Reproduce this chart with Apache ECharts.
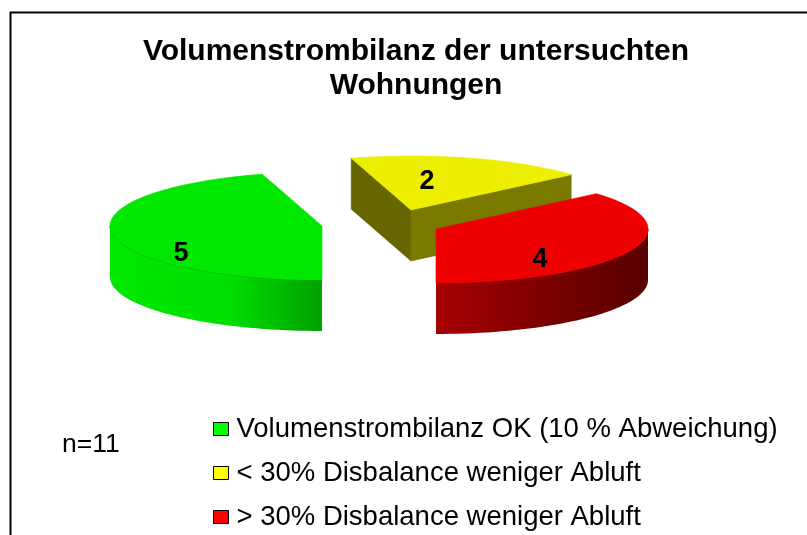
<!DOCTYPE html>
<html>
<head>
<meta charset="utf-8">
<style>html,body{margin:0;padding:0;background:#fff;overflow:hidden}#c{width:807px;height:535px}</style>
<script src="https://cdn.jsdelivr.net/npm/echarts@6/dist/echarts.min.js"></script>
</head>
<body>
<div id="c"></div>
<script>
const categories = ['Volumenstrombilanz OK (10 % Abweichung)', '< 30% Disbalance weniger Abluft', '> 30% Disbalance weniger Abluft'];
const values = [5, 2, 4];
const legendColors = ['#00ff00', '#ffff00', '#ff0000'];
const topColors = ['#00e800', '#eeee00', '#ee0000'];
const edgeColors = ['#008800', '#555500', '#880000'];
const sideStops = [['#00e800', '#00e000', '#00a000'], ['#7a7a00', '#7a7a00', '#7a7a00'], ['#a80000', '#780000', '#580000']];
const startFaceColors = ['#009000', '#666600', '#800000'];
const endFaceColors = ['#009000', '#7a7a00', '#800000'];
const apexes = [[322, 226], [411, 210], [436, 229]];
const labelAt = [[181, 254], [427, 182], [540, 260]];
const RX = 212, RY = 54, DEPTH = 51, START_DEG = 180;

const total = values.reduce((a, b) => a + b, 0);
const sliceStart = i => START_DEG + values.slice(0, i).reduce((a, b) => a + b, 0) / total * 360;

function drawSlice(i, api) {
  const v = api.value(0);
  const a = sliceStart(i), b = a + v / total * 360;
  const [cx, cy] = apexes[i];
  const pt = (d, dz) => {
    const t = d * Math.PI / 180;
    return [cx + RX * Math.sin(t), cy - RY * Math.cos(t) + (dz || 0)];
  };
  const arc = (from, to, dz) => {
    const n = Math.max(2, Math.ceil((to - from) / 2)), pts = [];
    for (let k = 0; k <= n; k++) pts.push(pt(from + (to - from) * k / n, dz));
    return pts;
  };
  const children = [];
  const face = (points, fill) => children.push({ type: 'polygon', shape: { points }, style: { fill, stroke: fill, lineWidth: 0.6 } });
  const rad = d => d * Math.PI / 180;
  if (Math.cos(rad(a - 90)) < -1e-6) {
    const p = pt(a);
    face([[cx, cy], p, [p[0], p[1] + DEPTH], [cx, cy + DEPTH]], startFaceColors[i]);
  }
  if (Math.cos(rad(b + 90)) < -1e-6) {
    const p = pt(b);
    face([[cx, cy], p, [p[0], p[1] + DEPTH], [cx, cy + DEPTH]], endFaceColors[i]);
  }
  [0, 360].forEach(off => {
    const from = Math.max(a, 90 + off), to = Math.min(b, 270 + off);
    if (to > from) {
      const upper = arc(from, to, 0), lower = arc(from, to, DEPTH).reverse();
      const s = sideStops[i];
      children.push({
        type: 'polygon', shape: { points: upper.concat(lower) },
        style: {
          fill: new echarts.graphic.LinearGradient(0, 0, 1, 0, [
            { offset: 0, color: s[0] }, { offset: 0.55, color: s[1] }, { offset: 1, color: s[2] }
          ])
        }
      });
      children.push({ type: 'polyline', shape: { points: upper }, style: { fill: 'none', stroke: edgeColors[i], lineWidth: 1 } });
    }
  });
  face([[cx, cy]].concat(arc(a, b, 0)), topColors[i]);
  children.push({
    type: 'text',
    style: {
      text: String(v), x: labelAt[i][0], y: labelAt[i][1], fill: '#000',
      font: 'bold 27px "Liberation Sans", Arial, sans-serif', textAlign: 'center', textVerticalAlign: 'middle'
    }
  });
  return { type: 'group', children };
}

const chart = echarts.init(document.getElementById('c'), null, { renderer: 'canvas' });
chart.setOption({
  animation: false,
  backgroundColor: '#fff',
  title: {
    text: 'Volumenstrombilanz der untersuchten\nWohnungen',
    left: 411, top: 30, textAlign: 'center',
    textStyle: { fontFamily: '"Liberation Sans", Arial, sans-serif', fontWeight: 'bold', fontSize: 30, lineHeight: 34, color: '#000' }
  },
  legend: {
    orient: 'vertical', left: 213, top: 411, itemWidth: 15, itemHeight: 13, itemGap: 8,
    selectedMode: false, icon: 'rect', padding: 0, itemSymbolKeepAspect: false,
    data: categories,
    itemStyle: { borderColor: '#000', borderWidth: 1 },
    textStyle: { fontFamily: '"Liberation Sans", Arial, sans-serif', fontSize: 27.5, color: '#000', padding: [10, 0, 0, 3], lineHeight: 26 }
  },
  graphic: [
    { type: 'rect', z: -1, shape: { x: 10.5, y: 12.5, width: 900, height: 700 }, style: { fill: 'none', stroke: '#000', lineWidth: 2 } },
    { type: 'text', style: { text: 'n=11', x: 62, y: 445, fill: '#000', font: '26.5px "Liberation Sans", Arial, sans-serif', textVerticalAlign: 'middle' } }
  ],
  series: categories.map((name, i) => ({
    type: 'custom', name, coordinateSystem: 'none',
    itemStyle: { color: legendColors[i] },
    data: [[values[i]]],
    renderItem: (params, api) => drawSlice(i, api)
  }))
});
</script>
</body>
</html>
